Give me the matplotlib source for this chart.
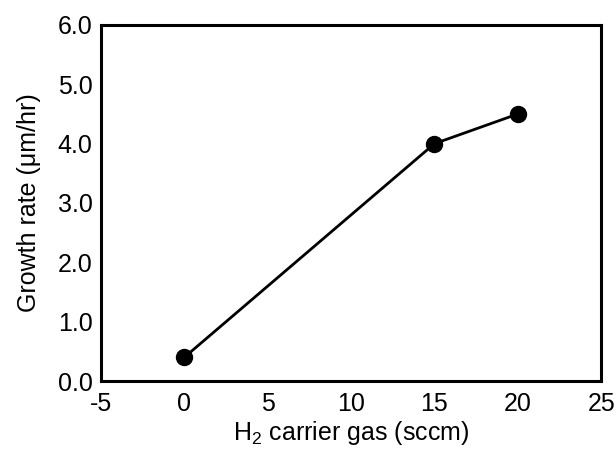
import matplotlib
matplotlib.use("Agg")
import matplotlib.pyplot as plt

plt.rcParams['font.family'] = ['Liberation Sans', 'DejaVu Sans']
plt.rcParams['mathtext.fontset'] = 'custom'
plt.rcParams['mathtext.rm'] = 'Liberation Sans'

h2_flow = [0, 15, 20]
growth_rate = [0.4, 4.0, 4.5]
x_ticks = [-5, 0, 5, 10, 15, 20, 25]
y_ticks = [0.0, 1.0, 2.0, 3.0, 4.0, 5.0, 6.0]

fig = plt.figure(figsize=(6.16, 4.49), dpi=100)
ax = fig.add_axes([0.164, 0.1514, 0.812, 0.793])

ax.plot(h2_flow, growth_rate, color='black', linewidth=2.0,
        marker='o', markersize=11.5)

ax.set_xlim(-5, 25)
ax.set_ylim(0, 6)
ax.set_xticks(x_ticks)
ax.set_xticklabels([str(v) for v in x_ticks])
ax.set_yticks(y_ticks)
ax.set_yticklabels([f"{v:.1f}" for v in y_ticks])
ax.tick_params(length=0, labelsize=18)
ax.tick_params(axis='x', pad=8)
ax.tick_params(axis='y', pad=6)

for s in ax.spines.values():
    s.set_linewidth(2.2)

ax.set_xlabel(r'H$_\mathregular{2}$ carrier gas (sccm)', fontsize=18, labelpad=2.4)
ax.set_ylabel('Growth rate (μm/hr)', fontsize=18, labelpad=12)

fig.savefig('out.png', dpi=100)
